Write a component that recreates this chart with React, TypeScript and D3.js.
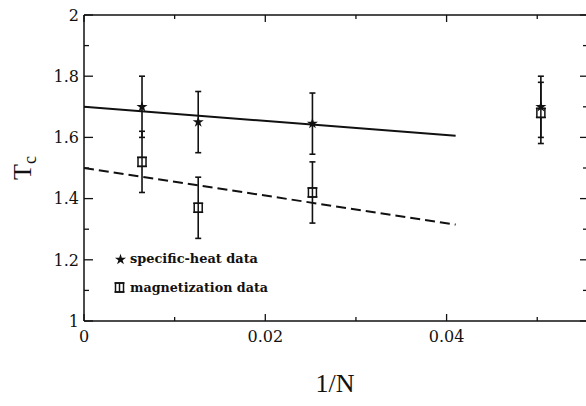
import React from "react";
import * as d3 from "d3";

const invN = [0.0064, 0.0126, 0.0252, 0.0504];
const heatTc = [1.7, 1.65, 1.645, 1.7];
const heatErr = [0.1, 0.1, 0.1, 0.1];
const magTc = [1.52, 1.37, 1.42, 1.68];
const magErr = [0.1, 0.1, 0.1, 0.1];
const fitX = [0, 0.041];
const heatFit = [1.7, 1.605];
const magFit = [1.5, 1.315];
const yTickLabels = ["1", "1.2", "1.4", "1.6", "1.8", "2"];
const xTickLabels = ["0", "0.02", "0.04"];
const legendLabels = ["specific-heat data", "magnetization data"];

const W = 586;
const H = 406;
const ink = "#111";

export default function App() {
  const x = d3.scaleLinear().domain([0, 0.0556]).range([84, 588]);
  const y = d3.scaleLinear().domain([1, 2]).range([321, 15]);
  const x0 = x(0), x1 = x(0.0556), yb = y(1), yt = y(2);

  const yTicks = d3.range(1, 2.0001, 0.1).map((v) => +v.toFixed(2));
  const xTicks = d3.range(0, 0.0551, 0.01).map((v) => +v.toFixed(3));
  const isMajorY = (v: number) => Math.round(v * 10) % 2 === 0;
  const isMajorX = (v: number) => Math.round(v * 100) % 2 === 0;

  const line = d3.line<[number, number]>().x((d) => x(d[0])).y((d) => y(d[1]));
  const heatLine = line(fitX.map((v, i) => [v, heatFit[i]] as [number, number]));
  const magLine = line(fitX.map((v, i) => [v, magFit[i]] as [number, number]));
  const star = d3.symbol().type(d3.symbolStar).size(38)();

  const errBar = (cx: number, lo: number, hi: number, key: string) => (
    <g key={key} stroke={ink} strokeWidth={1.6}>
      <line x1={cx} x2={cx} y1={y(lo)} y2={y(hi)} />
      <line x1={cx - 3} x2={cx + 3} y1={y(lo)} y2={y(lo)} />
      <line x1={cx - 3} x2={cx + 3} y1={y(hi)} y2={y(hi)} />
    </g>
  );

  const square = (cx: number, cy: number, key: string) => (
    <g key={key}>
      <rect x={cx - 4} y={cy - 4.5} width={8} height={9} fill="white" stroke={ink} strokeWidth={1.5} />
      <line x1={cx} x2={cx} y1={cy - 4.5} y2={cy + 4.5} stroke={ink} strokeWidth={1.5} />
      <line x1={cx - 5} x2={cx + 5} y1={cy - 4.5} y2={cy - 4.5} stroke={ink} strokeWidth={1.5} />
      <line x1={cx - 5} x2={cx + 5} y1={cy + 4.5} y2={cy + 4.5} stroke={ink} strokeWidth={1.5} />
    </g>
  );

  return (
    <svg width={W} height={H} style={{ position: "absolute", left: 0, top: 0, background: "white" }}>
      <rect width={W} height={H} fill="white" />
      <g stroke={ink} strokeWidth={1.5} fill="none">
        <line x1={x0} x2={x0} y1={yt} y2={yb} />
        <line x1={x0} x2={x1} y1={yb} y2={yb} />
        <line x1={x0} x2={x1} y1={yt} y2={yt} />
        <line x1={x1} x2={x1} y1={yt} y2={yb} />
      </g>
      <g stroke={ink} strokeWidth={1.3}>
        {yTicks.map((v) => {
          const maj = isMajorY(v);
          return (
            <g key={"yt" + v}>
              <line x1={x0} x2={x0 + (maj ? 9 : 5)} y1={y(v)} y2={y(v)} />
              <line x1={586} x2={586 - (maj ? 6 : 3)} y1={y(v)} y2={y(v)} />
            </g>
          );
        })}
        {xTicks.map((v) => {
          const maj = isMajorX(v);
          return (
            <g key={"xt" + v}>
              <line x1={x(v)} x2={x(v)} y1={yb} y2={yb - (maj ? 7 : 4)} />
              <line x1={x(v)} x2={x(v)} y1={yt} y2={yt + (maj ? 7 : 4)} />
            </g>
          );
        })}
      </g>
      <g fontFamily="DejaVu Serif" fontSize={16} fill={ink}>
        {yTickLabels.map((t) => (
          <text key={"yl" + t} x={79} y={y(+t)} dy="0.36em" textAnchor="end">{t}</text>
        ))}
        {xTickLabels.map((t) => (
          <text key={"xl" + t} x={x(+t)} y={342} textAnchor="middle">{t}</text>
        ))}
      </g>
      <text x={335} y={392} textAnchor="middle" fontFamily="Liberation Serif" fontSize={26} fill={ink}>1/N</text>
      <text transform="translate(31,168) rotate(-90)" textAnchor="middle" fontFamily="Liberation Serif" fontSize={26} fill={ink}>
        T<tspan fontSize={18} dy="5">c</tspan>
      </text>
      <path d={heatLine || ""} fill="none" stroke={ink} strokeWidth={2} />
      <path d={magLine || ""} fill="none" stroke={ink} strokeWidth={2} strokeDasharray="10,5" />
      {invN.map((v, i) => errBar(x(v), heatTc[i] - heatErr[i], heatTc[i] + heatErr[i], "he" + i))}
      {invN.map((v, i) => errBar(x(v), magTc[i] - magErr[i], magTc[i] + magErr[i], "me" + i))}
      {invN.map((v, i) => square(x(v), y(magTc[i]), "ms" + i))}
      {invN.map((v, i) => (
        <path key={"hs" + i} d={star || ""} transform={`translate(${x(v)},${y(heatTc[i])})`} fill={ink} />
      ))}
      <path d={star || ""} transform="translate(120.5,259.5)" fill={ink} />
      {square(119.5, 287.5, "legsq")}
      <g fontFamily="DejaVu Serif" fontWeight="bold" fontSize={12.5} fill={ink}>
        <text x={130} y={263} textLength={128} lengthAdjust="spacingAndGlyphs">{legendLabels[0]}</text>
        <text x={130} y={292} textLength={138} lengthAdjust="spacingAndGlyphs">{legendLabels[1]}</text>
      </g>
    </svg>
  );
}
